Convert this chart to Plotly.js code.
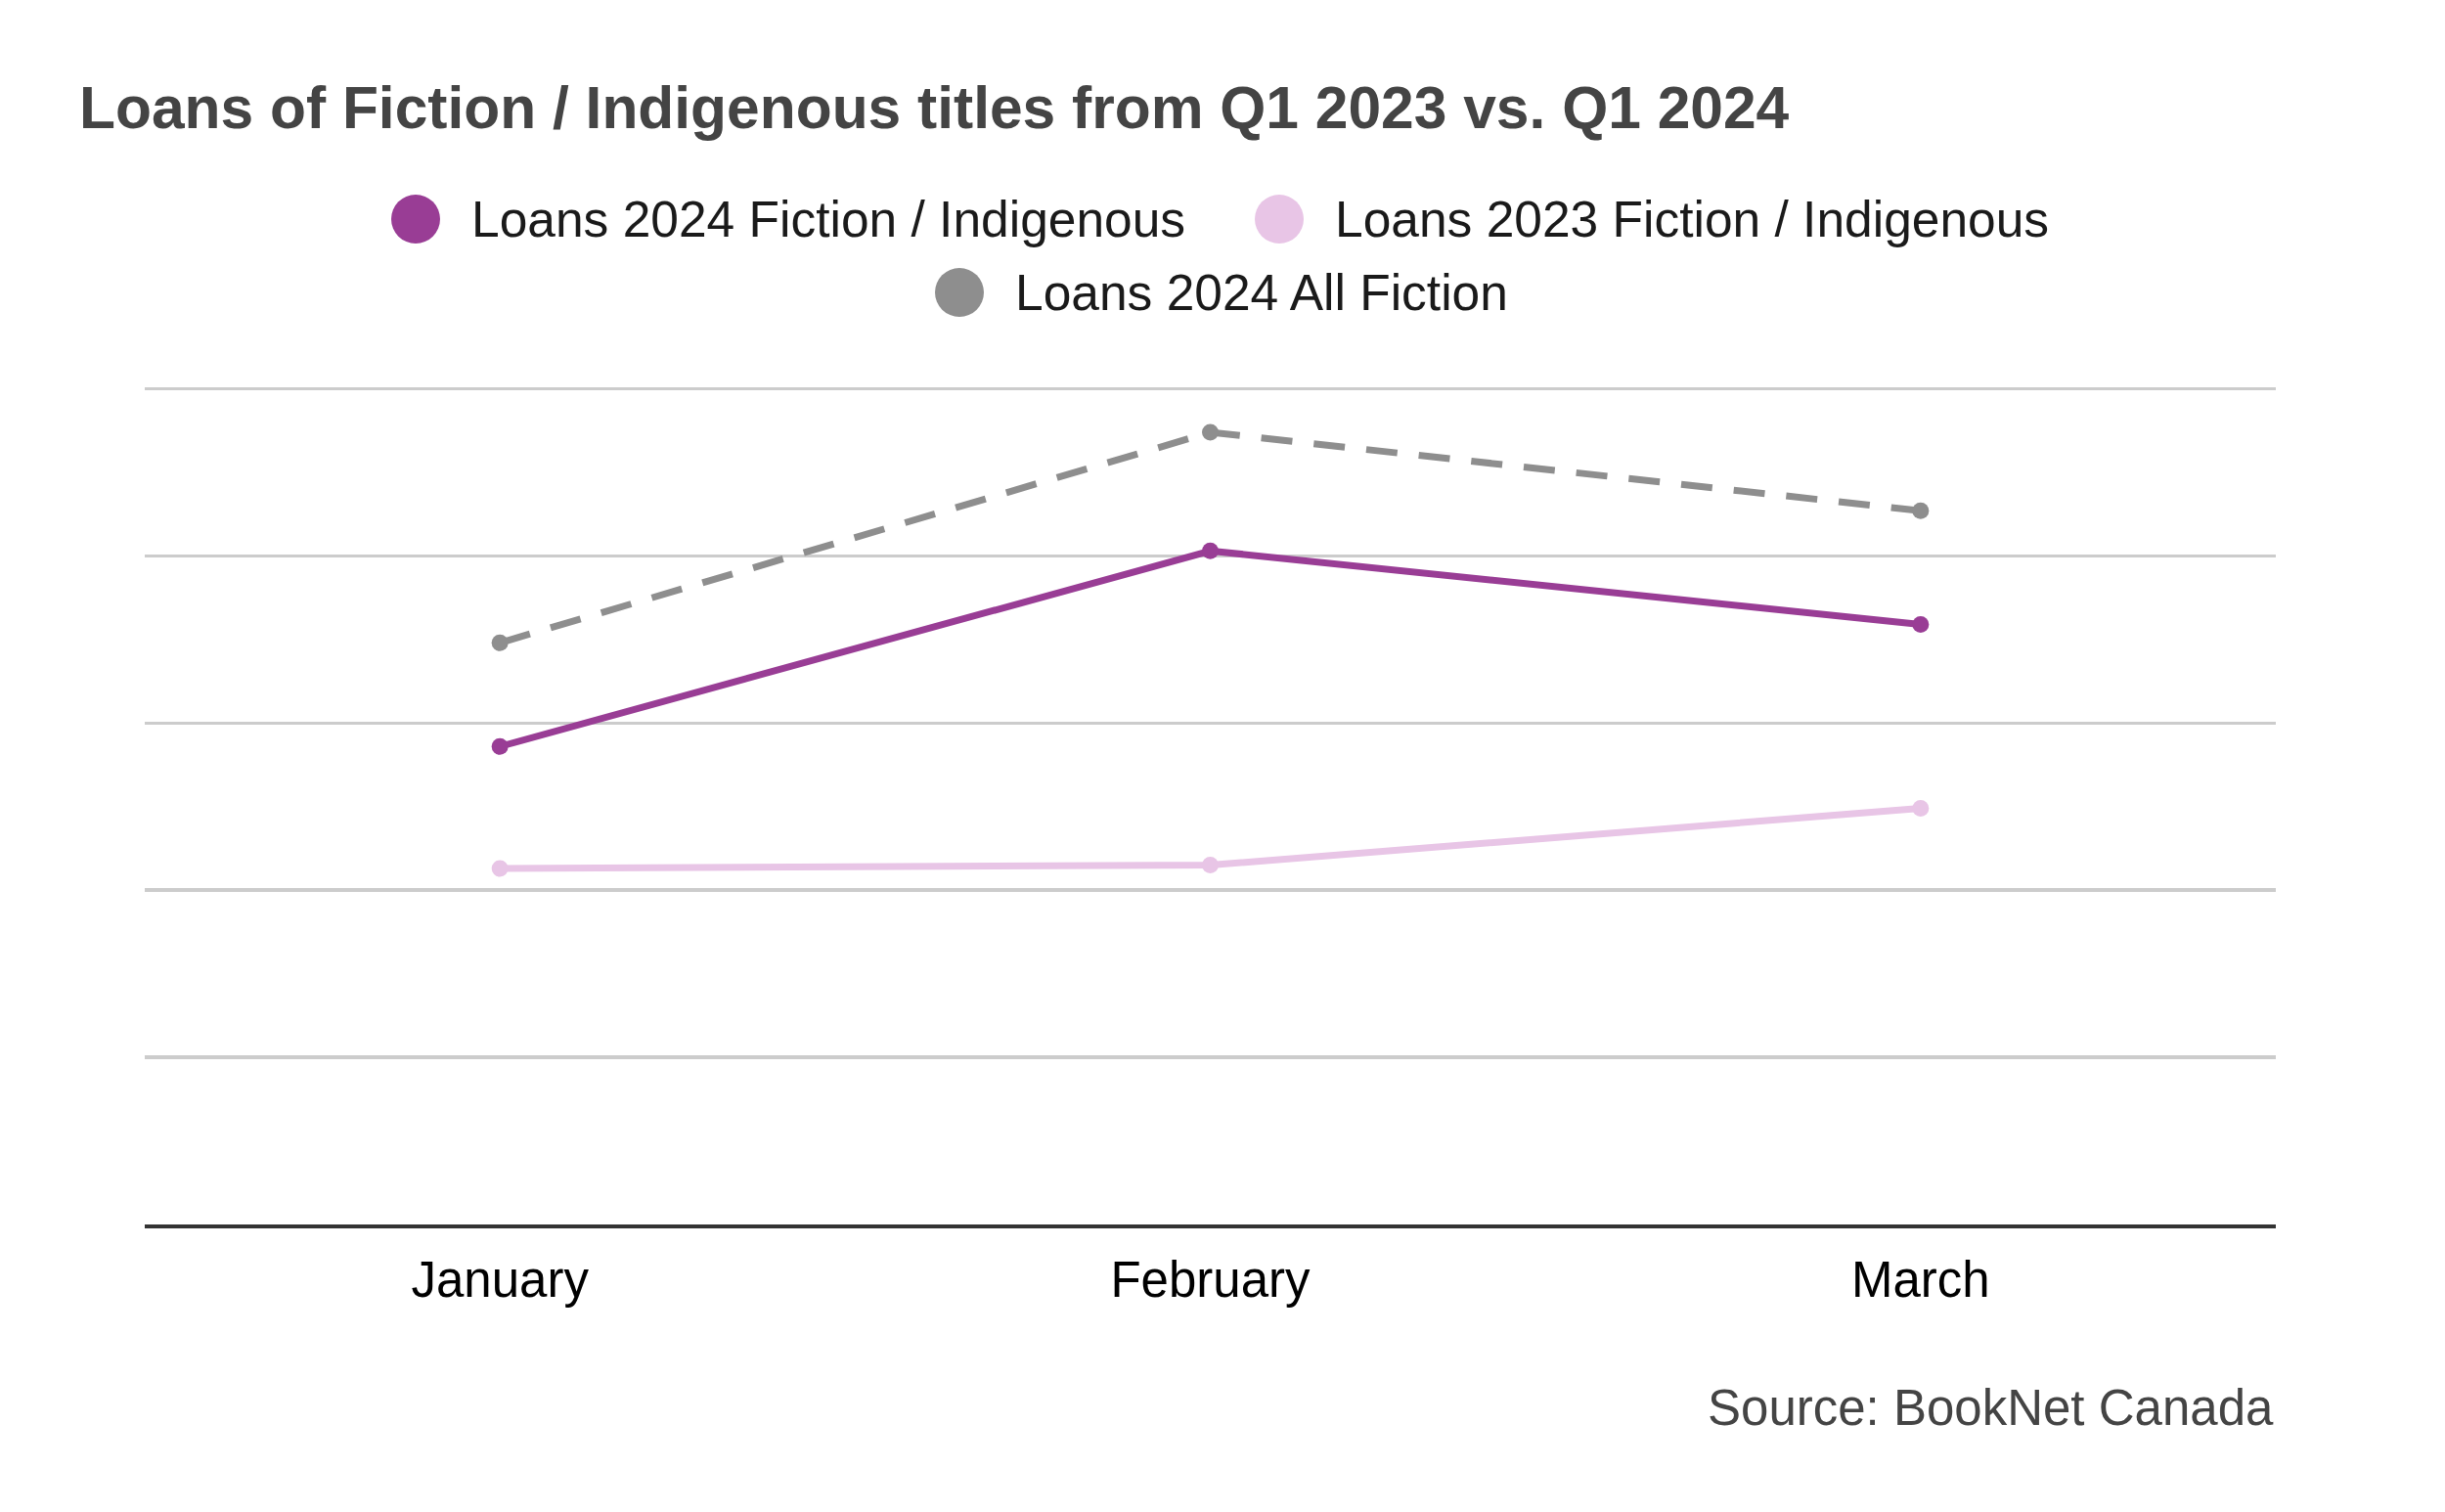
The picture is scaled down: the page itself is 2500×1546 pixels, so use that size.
<!DOCTYPE html>
<html>
<head>
<meta charset="utf-8">
<script src="https://cdn.plot.ly/plotly-3.0.1.min.js"></script>
<style>
  html, body { margin: 0; padding: 0; background: #fff; }
  #chart { width: 2500px; height: 1546px; }
</style>
</head>
<body>
<div id="chart"></div>
<script>
// months on the x axis
const months = ['January', 'February', 'March'];

// loans, in grid units (the y axis has no labels)
const loans2024Indigenous = [2.86, 4.03, 3.59];
const loans2023Indigenous = [2.13, 2.15, 2.49];
const loans2024AllFiction = [3.48, 4.74, 4.27];

const seriesNames = [
  'Loans 2024 Fiction / Indigenous',
  'Loans 2023 Fiction / Indigenous',
  'Loans 2024 All Fiction',
];

const colors = {
  purple: '#993d95',
  pink: '#e8c5e6',
  gray: '#8e8e8e',
  title: '#444444',
  text: '#1a1a1a',
  grid: '#cccccc',
  axis: '#333333',
};

const FONT = 'Liberation Sans, Arial, Helvetica, sans-serif';

const W = 2500;
const H = 1546;

// y range goes a touch past the top gridline so that line still gets drawn
const Y_MAX = 5.05;
const UNIT_PX = 170.8; // height of one grid step
const AXIS_Y = 1252; // page y of the x axis line
const margin = {
  l: 148,
  r: 173,
  t: Math.round(AXIS_Y - Y_MAX * UNIT_PX),
  b: H - AXIS_Y,
};

// convert page pixels to paper coordinates (for the hand-drawn legend)
const plotW = W - margin.l - margin.r;
const plotH = H - margin.t - margin.b;
const px = (x) => (x - margin.l) / plotW;
const py = (y) => (H - margin.b - y) / plotH;

const lineTrace = (y, color, dash) => ({
  type: 'scatter',
  mode: 'lines+markers',
  x: months,
  y,
  cliponaxis: false,
  showlegend: false,
  hoverinfo: 'skip',
  line: { color, width: 7, dash },
  marker: { color, size: 17 },
});

// draw order: gray behind, then pink, purple on top
const traces = [
  lineTrace(loans2024AllFiction, colors.gray, '32px,22px'),
  lineTrace(loans2023Indigenous, colors.pink, 'solid'),
  lineTrace(loans2024Indigenous, colors.purple, 'solid'),
];

// legend entries: circle centre and text start, in page pixels
const legendItems = [
  { name: seriesNames[0], color: colors.purple, cx: 425, cy: 224, tx: 480 },
  { name: seriesNames[1], color: colors.pink, cx: 1308, cy: 224, tx: 1363 },
  { name: seriesNames[2], color: colors.gray, cx: 981, cy: 299, tx: 1036 },
];

const shapes = legendItems.map((item) => ({
  type: 'circle',
  xref: 'paper',
  yref: 'paper',
  xsizemode: 'pixel',
  ysizemode: 'pixel',
  xanchor: px(item.cx),
  yanchor: py(item.cy),
  x0: -25,
  x1: 25,
  y0: -25,
  y1: 25,
  fillcolor: item.color,
  line: { width: 0 },
}));

const annotations = legendItems.map((item) => ({
  xref: 'paper',
  yref: 'paper',
  x: px(item.tx),
  y: py(item.cy),
  xanchor: 'left',
  yanchor: 'middle',
  showarrow: false,
  text: item.name,
  font: { family: FONT, size: 51.5, color: colors.text },
}));

annotations.push({
  xref: 'paper',
  yref: 'paper',
  x: 1,
  y: py(1439),
  xanchor: 'right',
  yanchor: 'middle',
  showarrow: false,
  text: 'Source: BookNet Canada',
  font: { family: FONT, size: 51, color: colors.title },
});

const layout = {
  width: W,
  height: H,
  margin,
  paper_bgcolor: '#fff',
  plot_bgcolor: '#fff',
  showlegend: false,
  hovermode: false,
  font: { family: FONT, color: colors.text },
  title: {
    text: '<b>Loans of Fiction / Indigenous titles from Q1 2023 vs. Q1 2024</b>',
    xref: 'container',
    yref: 'container',
    x: 81 / W,
    xanchor: 'left',
    y: 1 - 110 / H,
    yanchor: 'middle',
    font: { family: FONT, size: 60.5, color: colors.title },
  },
  xaxis: {
    type: 'category',
    range: [-0.5, 2.5],
    showgrid: false,
    zeroline: false,
    showline: true,
    linecolor: colors.axis,
    linewidth: 4,
    ticks: '',
    ticklabelstandoff: 9,
    tickfont: { family: FONT, size: 51, color: '#000' },
    fixedrange: true,
  },
  yaxis: {
    range: [0, Y_MAX],
    tick0: 0,
    dtick: 1,
    showgrid: true,
    gridcolor: colors.grid,
    gridwidth: 3.5,
    zeroline: false,
    showline: false,
    showticklabels: false,
    ticks: '',
    fixedrange: true,
  },
  shapes,
  annotations,
};

Plotly.newPlot('chart', traces, layout, { displayModeBar: false, staticPlot: true });
</script>
</body>
</html>
